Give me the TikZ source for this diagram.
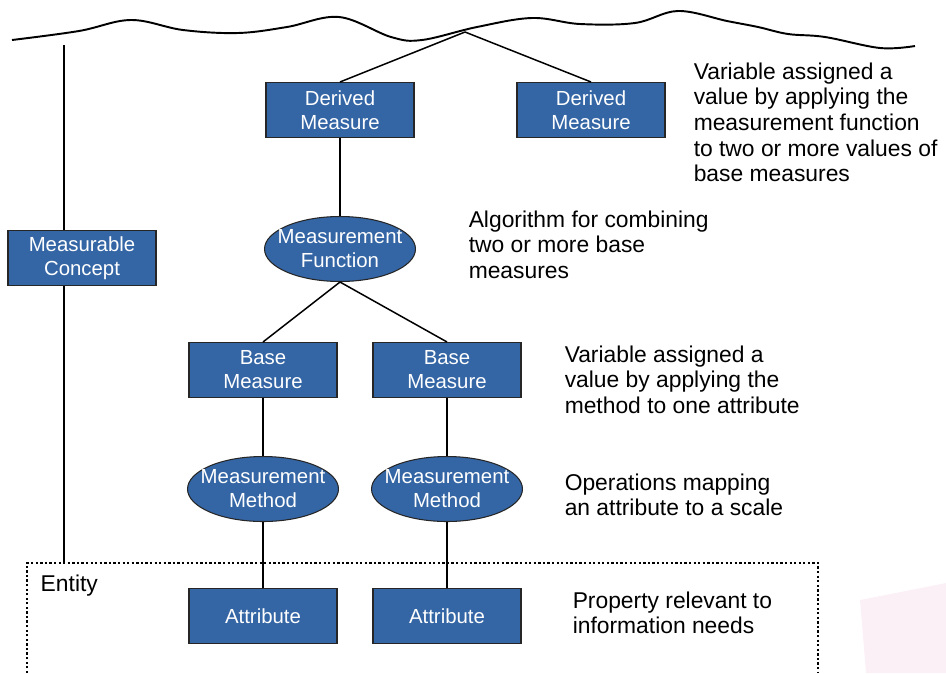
\documentclass[tikz,border=0pt]{standalone}
\usepackage{fontspec}
\setmainfont{Liberation Sans}
\usetikzlibrary{shapes.geometric}

\definecolor{boxblue}{RGB}{52,101,164}
\definecolor{palepink}{RGB}{252,240,247}

\begin{document}
\begin{tikzpicture}[x=0.02cm, y=-0.02cm, line width=0.85pt,
	box/.style={draw=black!85, line width=0.6pt, fill=boxblue, text=white, minimum width=2.96cm, minimum height=1.1cm, inner sep=0pt, align=center, font=\fontsize{11.6}{13.6}\selectfont},
	oval/.style={ellipse, draw=black!85, line width=0.6pt, fill=boxblue, text=white, minimum width=3.02cm, minimum height=1.3cm, inner xsep=-0.2cm, inner ysep=0pt, align=center, font=\fontsize{11.6}{13.6}\selectfont},
	note/.style={anchor=north west, inner sep=0pt, align=left, font=\fontsize{13}{14.6}\selectfont}]
	
	\useasboundingbox (0,0) rectangle (946,673);
	
	% --- faint mark in the corner
	\fill[palepink] (860,600) -- (946,583) -- (946,673) -- (866,673) -- cycle;
	
	% --- Wavy top line
	\draw[line width=1.1pt] plot[smooth, tension=0.6] coordinates {(12,40) (79,31) (131,20) (183,30) (238,33) (287,27) (339,17) (391,37) (422,40) (477,27) (532,18) (580,24) (635,23) (678,11) (727,21) (758,27) (788,34) (825,37) (880,48) (915,46)};
	
	% --- Entity (dashed region, open at the bottom)
	\draw[line width=0.7pt, dash pattern=on 1.3pt off 1.3pt] (27,673) -- (27,563) -- (818,563) -- (818,673);
	\node[note] (ent) at (40,574) {Entity};
	
	% Nodes
	\node[box]  (dm1) at (340,110) {Derived\\Measure};
	\node[box]  (dm2) at (591,110) {Derived\\Measure};
	\node[box]  (mc)  at (82,258)  {Measurable\\Concept};
	\node[oval] (mf)  at (340,249) {Measurement\\Function};
	\node[box]  (bm1) at (263,370) {Base\\Measure};
	\node[box]  (bm2) at (447,370) {Base\\Measure};
	\node[oval] (mm1) at (263,489) {Measurement\\Method};
	\node[oval] (mm2) at (447,489) {Measurement\\Method};
	\node[box]  (at1) at (263,616) {Attribute};
	\node[box]  (at2) at (447,616) {Attribute};
	
	% Descriptions
	\node[note] (dmtxt) at (693,62)  {Variable assigned a\\value by applying the\\measurement function\\to two or more values of\\base measures};
	\node[note] (mftxt) at (468,210) {Algorithm for combining\\two or more base\\measures};
	\node[note] (bmtxt) at (564,345) {Variable assigned a\\value by applying the\\method to one attribute};
	\node[note] (mmtxt) at (564,473) {Operations mapping\\an attribute to a scale};
	\node[note] (attxt) at (572,591) {Property relevant to\\information needs};
	
	% --- Lines
	\coordinate (apex)  at (465,32);
	\coordinate (mctop) at (64,45);
	\coordinate (mcbot) at (64,563);
	\draw (apex) -- (dm1.north);
	\draw (apex) -- (dm2.north);
	\draw (mctop) -- (mctop |- mc.north);
	\draw (mc.south -| mcbot) -- (mcbot);
	\draw (dm1) -- (mf);
	\draw (mf.south) -- (bm1.north);
	\draw (mf.south) -- (bm2.north);
	\draw (bm1) -- (mm1);
	\draw (bm2) -- (mm2);
	\draw (mm1) -- (at1);
	\draw (mm2) -- (at2);
	
\end{tikzpicture}
\end{document}
